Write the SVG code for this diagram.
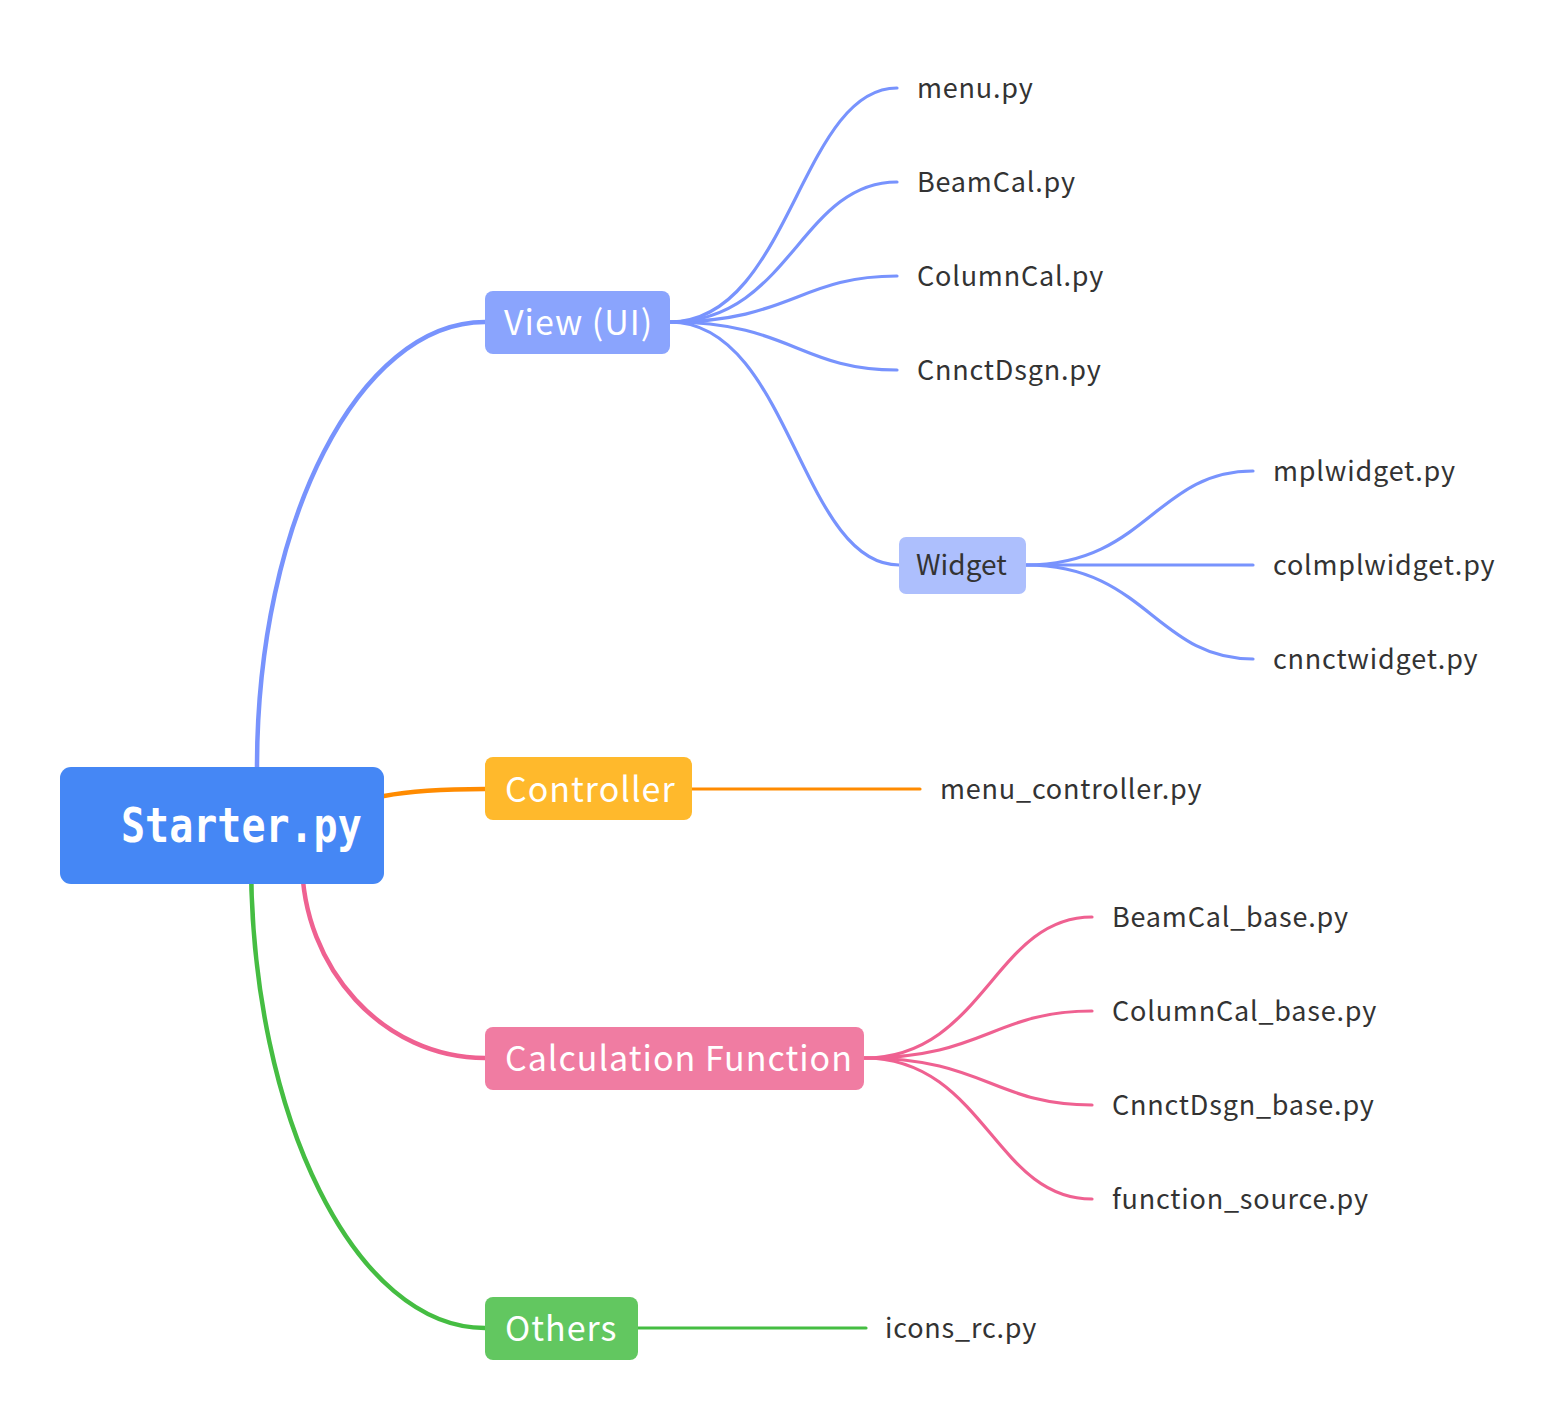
<svg xmlns="http://www.w3.org/2000/svg" width="1564" height="1422" viewBox="0 0 1564 1422">
<style>
.main{fill:none;stroke-width:4.5;stroke-linecap:round}
.sub{fill:none;stroke-width:3.2;stroke-linecap:round}
.blue{stroke:#7893fd}
.orange{stroke:#ff8b00}
.pink{stroke:#ef6191}
.green{stroke:#45bd42}
.lbl{font-family:"Noto Sans CJK SC","Source Sans Pro","Noto Sans",sans-serif;dominant-baseline:central}
.topic{font-size:34px;fill:#ffffff;letter-spacing:1px}
.leaf{font-size:27px;fill:#333333;letter-spacing:0.8px}
.root{font-family:"DejaVu Sans Mono","Liberation Mono",monospace;font-weight:bold;font-size:40px;fill:#ffffff}
</style>
<rect width="1564" height="1422" fill="#ffffff"/>
<g id="connectors">
  <path class="main blue" d="M257,767 C257,521 359,322 485,322"/>
  <path class="main orange" d="M384,796 Q420,789 485,789"/>
  <path class="main pink" d="M302,860 C302,969 384,1058 485,1058"/>
  <path class="main green" d="M251,860 C251,1118 356,1328 485,1328"/>
  <path class="sub blue" d="M670,322 C790,322 800,88 897,88"/>
  <path class="sub blue" d="M670,322 C790,322 800,182 897,182"/>
  <path class="sub blue" d="M670,322 C790,322 800,276 897,276"/>
  <path class="sub blue" d="M670,322 C790,322 800,370 897,370"/>
  <path class="sub blue" d="M670,322 C790,322 800,565 899,565"/>
  <path class="sub blue" d="M1026,565 C1146,565 1156,471 1253,471"/>
  <path class="sub blue" d="M1026,565 L1253,565"/>
  <path class="sub blue" d="M1026,565 C1146,565 1156,659 1253,659"/>
  <path class="sub orange" d="M692,789 L920,789"/>
  <path class="sub pink" d="M864,1058 C984,1058 994,917 1092,917"/>
  <path class="sub pink" d="M864,1058 C984,1058 994,1011 1092,1011"/>
  <path class="sub pink" d="M864,1058 C984,1058 994,1105 1092,1105"/>
  <path class="sub pink" d="M864,1058 C984,1058 994,1199 1092,1199"/>
  <path class="sub green" d="M638,1328 L866,1328"/>
</g>
<g id="root">
  <rect x="60" y="767" width="324" height="117" rx="11" fill="#4587f5"/>
  <text class="root" transform="translate(121,842) scale(1,1.2)">Starter.py</text>
</g>
<g id="view">
  <rect x="485" y="291" width="185" height="63" rx="8" fill="#8aa4fd"/>
  <text class="lbl topic" x="504" y="320">View (UI)</text>
</g>
<g id="menu"><text class="lbl leaf" x="917" y="86">menu.py</text></g>
<g id="beamcal"><text class="lbl leaf" x="917" y="180">BeamCal.py</text></g>
<g id="columncal"><text class="lbl leaf" x="917" y="274">ColumnCal.py</text></g>
<g id="cnnctdsgn"><text class="lbl leaf" x="917" y="368">CnnctDsgn.py</text></g>
<g id="widget">
  <rect x="899" y="537" width="127" height="57" rx="7" fill="#adbffd"/>
  <text class="lbl" x="916" y="563" font-size="28" fill="#333333">Widget</text>
</g>
<g id="mplwidget"><text class="lbl leaf" x="1273" y="469">mplwidget.py</text></g>
<g id="colmplwidget"><text class="lbl leaf" x="1273" y="563">colmplwidget.py</text></g>
<g id="cnnctwidget"><text class="lbl leaf" x="1273" y="657">cnnctwidget.py</text></g>
<g id="controller">
  <rect x="485" y="757" width="207" height="63" rx="8" fill="#ffb92c"/>
  <text class="lbl topic" x="505" y="787">Controller</text>
</g>
<g id="menu_controller"><text class="lbl leaf" x="940" y="787">menu_controller.py</text></g>
<g id="calc">
  <rect x="485" y="1027" width="379" height="63" rx="8" fill="#f07ca2"/>
  <text class="lbl topic" x="505" y="1056">Calculation Function</text>
</g>
<g id="beamcal_base"><text class="lbl leaf" x="1112" y="915">BeamCal_base.py</text></g>
<g id="columncal_base"><text class="lbl leaf" x="1112" y="1009">ColumnCal_base.py</text></g>
<g id="cnnctdsgn_base"><text class="lbl leaf" x="1112" y="1103">CnnctDsgn_base.py</text></g>
<g id="function_source"><text class="lbl leaf" x="1112" y="1197">function_source.py</text></g>
<g id="others">
  <rect x="485" y="1297" width="153" height="63" rx="8" fill="#62c760"/>
  <text class="lbl topic" x="505" y="1326">Others</text>
</g>
<g id="icons_rc"><text class="lbl leaf" x="885" y="1326">icons_rc.py</text></g>
</svg>
